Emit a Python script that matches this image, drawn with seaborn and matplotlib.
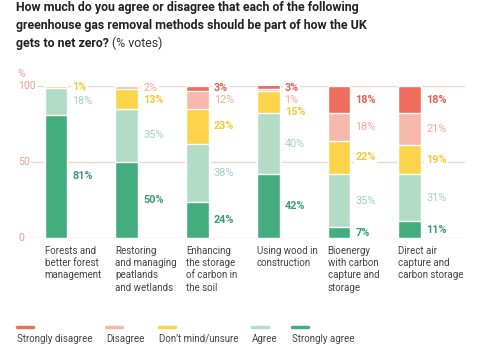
import numpy as np
import pandas as pd
import seaborn as sns
import matplotlib.pyplot as plt
from matplotlib.lines import Line2D
from matplotlib.transforms import blended_transform_factory

# Chart data (% votes)
categories = [
    "Forests and\nbetter forest\nmanagement",
    "Restoring\nand managing\npeatlands\nand wetlands",
    "Enhancing\nthe storage\nof carbon in\nthe soil",
    "Using wood in\nconstruction",
    "Bioenergy\nwith carbon\ncapture and\nstorage",
    "Direct air\ncapture and\ncarbon storage",
]
levels = ["Strongly disagree", "Disagree", "Don\u2019t mind/unsure", "Agree", "Strongly agree"]
strongly_agree = [81, 50, 24, 42, 7, 11]
agree = [18, 35, 38, 40, 35, 31]
unsure = [1, 13, 23, 15, 22, 19]
disagree = [0, 2, 12, 1, 18, 21]
strongly_disagree = [0, 0, 3, 3, 18, 18]
y_ticks = [0, 50, 100]

colors = ["#ee6d5c", "#f7b8ab", "#fbd44b", "#b3dcc6", "#44ad80"]
label_colors = ["#e8604e", "#f2a99b", "#f5c832", "#a3d1b8", "#3a9e72"]
label_weights = ["bold", "normal", "bold", "normal", "bold"]

sns.set_style("white")
plt.rcParams["font.family"] = ["Roboto", "DejaVu Sans"]

# stacked from bottom: strongly agree -> strongly disagree
stack = [strongly_agree, agree, unsure, disagree, strongly_disagree]
df = pd.DataFrame({"category": categories})
for name, vals in zip(levels[::-1], stack):
    df[name] = vals
cum = df[levels[::-1]].cumsum(axis=1)

fig = plt.figure(figsize=(5, 3.61), dpi=100)
ax = fig.add_axes([27 / 500, (361 - 238) / 361, 438 / 500, 152 / 361])

bar_w = 0.32
# draw the tallest cumulative bar first, shorter ones in front
for i, name in enumerate(levels):
    sns.barplot(x=df["category"], y=cum[name], color=colors[i], width=bar_w,
                saturation=1, errorbar=None, ax=ax, zorder=3)

ax.set_xlim(-0.41, 5.78)
ax.set_ylim(0, 100)
ax.set_xlabel("")
ax.set_ylabel("")
sns.despine(ax=ax, left=True, bottom=True)

# grid lines and y labels
ax.set_yticks(y_ticks)
ax.set_yticklabels([])
ax.tick_params(axis="y", length=0)
ax.yaxis.grid(True, color="#f5d3cb", linewidth=1)
ax.set_axisbelow(True)
tr = blended_transform_factory(fig.transFigure, ax.transData)
for t in y_ticks:
    ax.text(18 / 500, t, str(t), transform=tr, ha="left", va="center",
            fontsize=7.5, color="#ef9b8b", zorder=4,
            bbox=dict(facecolor="white", edgecolor="none", pad=1.2))
ax.text(18 / 500, 108, "%", transform=tr, ha="left", va="center",
        fontsize=7.5, color="#ef9b8b", clip_on=False)

# category labels, left-aligned at bar left edge
ax.set_xticks(np.arange(len(categories)) - bar_w / 2)
ax.set_xticklabels(categories, ha="left", va="top", fontsize=7,
                   color="#444444", linespacing=1.3)
ax.tick_params(axis="x", length=0, pad=5.5)

# value labels to the right of bars, nudged apart
gap = 7.9
for j in range(len(categories)):
    prev = None
    for i, name in enumerate(levels):
        v = df.loc[j, name]
        if v == 0:
            continue
        top = min(cum.loc[j, name], 100)
        y = top - v / 2
        if prev is not None and y > prev - gap:
            y = prev - gap
        prev = y
        ax.text(j + bar_w / 2 + 0.07, y, f"{v}%", ha="left", va="center",
                fontsize=7.8, color=label_colors[i], fontweight=label_weights[i],
                zorder=5, bbox=dict(facecolor="white", edgecolor="none", pad=1.2))

# title
title_lines = [
    "How much do you agree or disagree that each of the following",
    "greenhouse gas removal methods should be part of how the UK",
    "gets to net zero?",
]
title_y = [7.5, 25.5, 43.5]
last = None
for line, yy in zip(title_lines, title_y):
    last = fig.text(16 / 500, 1 - yy / 361, line, ha="left", va="center",
                    fontsize=8.9, fontweight="bold", color="#222222")
fig.canvas.draw()
ext = last.get_window_extent(fig.canvas.get_renderer())
fig.text(ext.x1 / fig.bbox.width + 3 / 500, 1 - title_y[2] / 361, "(% votes)",
         ha="left", va="center", fontsize=8.9, color="#333333")

# legend: swatch above text
leg_x = [17, 106, 159, 252, 292]
for i, name in enumerate(levels):
    x0 = leg_x[i] / 500
    fig.add_artist(Line2D([x0, x0 + 16 / 500], [1 - 327 / 361] * 2,
                          color=colors[i], linewidth=2.5, transform=fig.transFigure))
    fig.text(x0, 1 - 339 / 361, name, ha="left", va="center",
             fontsize=7, color="#444444")

fig.savefig("out.png", dpi=100)
